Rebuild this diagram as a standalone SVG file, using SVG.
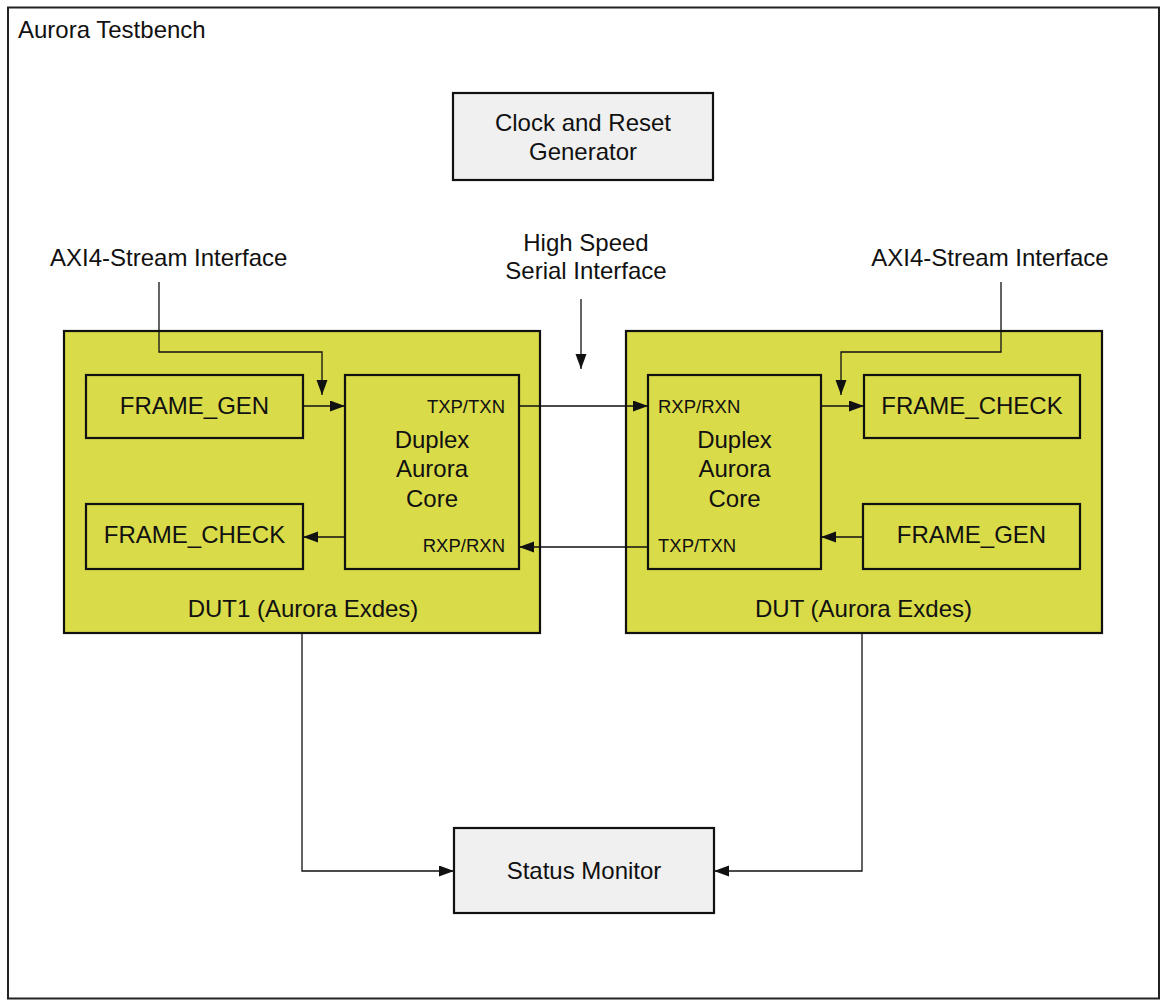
<svg xmlns="http://www.w3.org/2000/svg" width="1162" height="1001" viewBox="0 0 1162 1001">
<style>
text{font-family:"Liberation Sans",Arial,sans-serif;font-size:24px;fill:#111}
.c{text-anchor:middle}
.p{font-size:18.5px}
.r{text-anchor:end}
.dut{fill:#d9db48;stroke:#111;stroke-width:2.2}
.blk{fill:#d9db48;stroke:#111;stroke-width:2.2}
.gry{fill:#f0f0f0;stroke:#111;stroke-width:2.2}
.ln{fill:none;stroke:#111;stroke-width:1.3}
</style>
<defs>
<marker id="ah" markerUnits="userSpaceOnUse" markerWidth="16" markerHeight="12" refX="15" refY="5.5" orient="auto">
<path d="M0,0 L15,5.5 L0,11 z" fill="#111"/>
</marker>
</defs>
<g id="testbench">
<rect x="8" y="7.5" width="1151" height="991" fill="#fff" stroke="#222" stroke-width="2"/>
<text x="18" y="38">Aurora Testbench</text>
</g>
<g id="clock">
<rect class="gry" x="453" y="93" width="260" height="87"/>
<text class="c" x="583" y="131">Clock and Reset</text>
<text class="c" x="583" y="160">Generator</text>
</g>
<g id="labels">
<text x="50" y="266">AXI4-Stream Interface</text>
<text class="c" x="990" y="266">AXI4-Stream Interface</text>
<text class="c" x="586" y="251">High Speed</text>
<text class="c" x="586" y="279">Serial Interface</text>
</g>
<g id="dut1">
<rect class="dut" x="64" y="331" width="476" height="302"/>
<text class="c" x="303" y="617">DUT1 (Aurora Exdes)</text>
</g>
<g id="dut1_frame_gen">
<rect class="blk" x="86" y="375" width="217" height="63"/>
<text class="c" x="194.5" y="414">FRAME_GEN</text>
</g>
<g id="dut1_frame_check">
<rect class="blk" x="86" y="504" width="217" height="65"/>
<text class="c" x="194.5" y="543">FRAME_CHECK</text>
</g>
<g id="dut1_core">
<rect class="blk" x="345" y="375" width="174" height="194"/>
<text class="c" x="432" y="448">Duplex</text>
<text class="c" x="432" y="477">Aurora</text>
<text class="c" x="432" y="507">Core</text>
<text class="p r" x="505" y="413">TXP/TXN</text>
<text class="p r" x="505" y="552">RXP/RXN</text>
</g>
<g id="dut">
<rect class="dut" x="626" y="331" width="476" height="302"/>
<text class="c" x="863.5" y="617">DUT (Aurora Exdes)</text>
</g>
<g id="dut_core">
<rect class="blk" x="648" y="375" width="173" height="194"/>
<text class="c" x="734.5" y="448">Duplex</text>
<text class="c" x="734.5" y="477">Aurora</text>
<text class="c" x="734.5" y="507">Core</text>
<text class="p" x="658" y="413">RXP/RXN</text>
<text class="p" x="658" y="552">TXP/TXN</text>
</g>
<g id="dut_frame_check">
<rect class="blk" x="864" y="375" width="216" height="63"/>
<text class="c" x="972" y="414">FRAME_CHECK</text>
</g>
<g id="dut_frame_gen">
<rect class="blk" x="863" y="504" width="217" height="65"/>
<text class="c" x="971.5" y="543">FRAME_GEN</text>
</g>
<g id="status">
<rect class="gry" x="454" y="828" width="260" height="85"/>
<text class="c" x="584" y="879">Status Monitor</text>
</g>
<g id="connectors">
<path class="ln" d="M159,282 V352 H322 V395" marker-end="url(#ah)"/>
<path class="ln" d="M303,406 H345" marker-end="url(#ah)"/>
<path class="ln" d="M345,537 H303" marker-end="url(#ah)"/>
<path class="ln" d="M1001,282 V352 H841 V395" marker-end="url(#ah)"/>
<path class="ln" d="M821,406 H864" marker-end="url(#ah)"/>
<path class="ln" d="M863,537 H821" marker-end="url(#ah)"/>
<path class="ln" d="M581,299 V369" marker-end="url(#ah)"/>
<path class="ln" d="M519,406 H648" marker-end="url(#ah)"/>
<path class="ln" d="M648,547 H519" marker-end="url(#ah)"/>
<path class="ln" d="M302,633 V871 H454" marker-end="url(#ah)"/>
<path class="ln" d="M862,633 V871 H714" marker-end="url(#ah)"/>
</g>
</svg>
